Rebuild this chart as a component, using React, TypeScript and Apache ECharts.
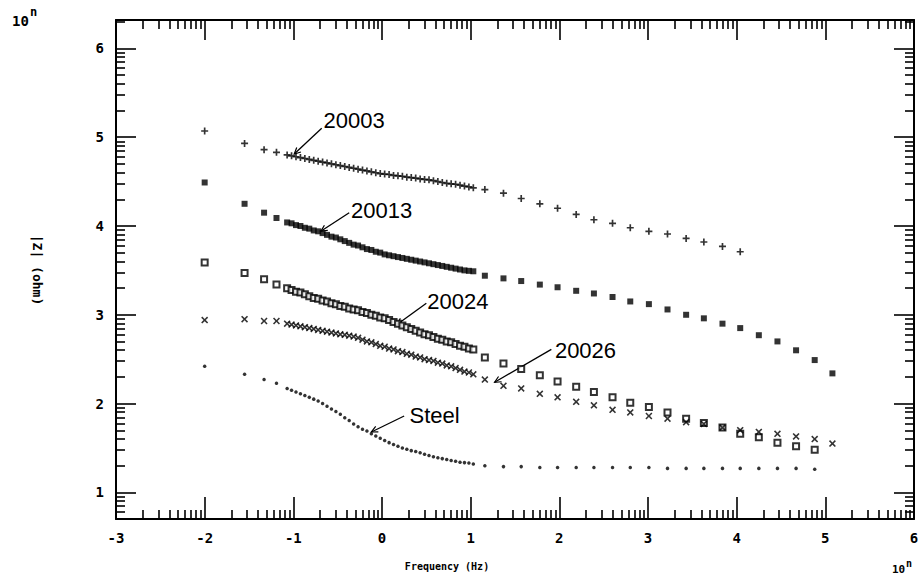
import React, { useEffect, useRef } from 'react';
import * as echarts from 'echarts';

// ---- data (log10 values) ----
const xTickValues = [-3, -2, -1, 0, 1, 2, 3, 4, 5, 6];
const yTickValues = [1, 2, 3, 4, 5, 6];

const logFreq = [
  -2.0, -1.55, -1.33, -1.19,
  -1.07, -1.02, -0.97, -0.92, -0.87, -0.82, -0.77, -0.72, -0.67, -0.62,
  -0.57, -0.52, -0.47, -0.42, -0.37, -0.32, -0.27, -0.22, -0.17, -0.12,
  -0.07, -0.02, 0.03, 0.08, 0.13, 0.18, 0.23, 0.28, 0.33, 0.38,
  0.43, 0.48, 0.53, 0.58, 0.63, 0.68, 0.73, 0.78, 0.83, 0.88,
  0.93, 0.98, 1.03,
  1.16, 1.37, 1.57, 1.78, 1.98, 2.19, 2.39, 2.60, 2.80, 3.01,
  3.22, 3.43, 3.63, 3.84, 4.04, 4.25, 4.46, 4.67, 4.88, 5.08,
];

const z20003 = [
  5.07, 4.93, 4.86, 4.83,
  4.80, 4.79, 4.78, 4.77, 4.76, 4.75, 4.74, 4.73, 4.72, 4.71,
  4.70, 4.69, 4.68, 4.67, 4.66, 4.65, 4.64, 4.63, 4.62, 4.61,
  4.60, 4.59, 4.585, 4.58, 4.57, 4.565, 4.56, 4.55, 4.545, 4.54,
  4.53, 4.525, 4.52, 4.51, 4.50, 4.49, 4.48, 4.475, 4.47, 4.46,
  4.45, 4.44, 4.43,
  4.41, 4.37, 4.31, 4.25, 4.20, 4.13, 4.07, 4.03, 3.98, 3.94,
  3.91, 3.86, 3.82, 3.77, 3.71, null, null, null, null, null,
];

const z20013 = [
  4.49, 4.25, 4.15, 4.09,
  4.04, 4.03, 4.01, 4.00, 3.98, 3.97, 3.95, 3.94, 3.92, 3.90,
  3.88, 3.87, 3.85, 3.83, 3.81, 3.79, 3.78, 3.76, 3.74, 3.73,
  3.71, 3.70, 3.68, 3.67, 3.66, 3.65, 3.64, 3.63, 3.62, 3.61,
  3.60, 3.59, 3.58, 3.57, 3.56, 3.55, 3.54, 3.53, 3.52, 3.51,
  3.50, 3.495, 3.49,
  3.44, 3.41, 3.38, 3.34, 3.31, 3.27, 3.24, 3.20, 3.15, 3.12,
  3.06, 3.00, 2.96, 2.90, 2.85, 2.77, 2.70, 2.60, 2.49, 2.34,
];

const z20024 = [
  3.59, 3.47, 3.40, 3.34,
  3.30, 3.28, 3.26, 3.25, 3.23, 3.21, 3.19, 3.18, 3.16, 3.15,
  3.13, 3.12, 3.10, 3.09, 3.07, 3.06, 3.05, 3.03, 3.02, 3.00,
  2.99, 2.97, 2.96, 2.94, 2.92, 2.90, 2.88, 2.86, 2.84, 2.82,
  2.80, 2.78, 2.77, 2.75, 2.73, 2.72, 2.70, 2.69, 2.67, 2.65,
  2.64, 2.62, 2.61,
  2.52, 2.45, 2.39, 2.32, 2.25, 2.19, 2.13, 2.07, 2.01, 1.96,
  1.90, 1.83, 1.78, 1.73, 1.66, 1.62, 1.56, 1.52, 1.48, null,
];

const z20026 = [
  2.94, 2.95, 2.93, 2.93,
  2.90, 2.89, 2.88, 2.87, 2.86, 2.85, 2.84, 2.83, 2.82, 2.81,
  2.80, 2.79, 2.78, 2.775, 2.765, 2.755, 2.74, 2.72, 2.70, 2.69,
  2.67, 2.65, 2.64, 2.62, 2.61, 2.59, 2.58, 2.56, 2.55, 2.53,
  2.52, 2.50, 2.49, 2.48, 2.46, 2.45, 2.43, 2.42, 2.40, 2.38,
  2.36, 2.35, 2.33,
  2.27, 2.20, 2.17, 2.11, 2.07, 2.02, 1.98, 1.93, 1.90, 1.86,
  1.83, 1.79, 1.77, 1.73, 1.70, 1.68, 1.66, 1.63, 1.60, 1.55,
];

const zSteel = [
  2.42, 2.33, 2.27, 2.23,
  2.17, 2.15, 2.13, 2.11, 2.09, 2.07, 2.05, 2.03, 2.00, 1.97,
  1.94, 1.91, 1.88, 1.84, 1.81, 1.77, 1.74, 1.71, 1.69, 1.66,
  1.635, 1.61, 1.585, 1.56, 1.54, 1.52, 1.50, 1.485, 1.47, 1.46,
  1.445, 1.43, 1.415, 1.40, 1.39, 1.38, 1.37, 1.36, 1.35, 1.34,
  1.335, 1.33, 1.32,
  1.30, 1.29, 1.29, 1.28, 1.28, 1.28, 1.28, 1.28, 1.28, 1.28,
  1.27, 1.27, 1.27, 1.27, 1.27, 1.27, 1.27, 1.27, 1.26, null,
];

// annotation labels: text, label anchor, arrow start, arrow tip (data coords)
const annoNames = ['20003', '20013', '20024', '20026', 'Steel'];
const annoLabelAt = [[-0.66, 5.19], [-0.35, 4.18], [0.51, 3.15], [1.95, 2.60], [0.31, 1.87]];
const annoFrom = [[-0.68, 5.10], [-0.37, 4.15], [0.50, 3.13], [1.91, 2.61], [0.25, 1.86]];
const annoTo = [[-0.99, 4.81], [-0.69, 3.94], [0.17, 2.89], [1.27, 2.24], [-0.12, 1.68]];

const X_MIN = -3;
const X_MAX = 6;
const Y_MIN = 0.7;
const Y_MAX = 6.32;

const PLUS = 'path://M3.8,0H6.2V3.8H10V6.2H6.2V10H3.8V6.2H0V3.8H3.8Z';
const CROSS = 'path://M0,1.6L1.6,0L5,3.4L8.4,0L10,1.6L6.6,5L10,8.4L8.4,10L5,6.6L1.6,10L0,8.4L3.4,5Z';

function logMinor(lo: number, hi: number): number[] {
  const out: number[] = [];
  for (let n = Math.floor(lo) - 1; n < hi; n++) {
    for (let k = 2; k <= 9; k++) {
      const v = n + Math.log10(k);
      if (v > lo + 1e-6 && v < hi - 1e-6) out.push(v);
    }
  }
  return out;
}

function pairs(xs: number[], ys: (number | null)[]) {
  const out: number[][] = [];
  ys.forEach((y, i) => {
    if (y !== null && y !== undefined) out.push([xs[i], y]);
  });
  return out;
}

const TICK_FONT = {
  fontFamily: '"DejaVu Sans Mono", monospace',
  fontWeight: 'bold' as const,
  fontSize: 14,
  color: '#000',
};

export default function App() {
  const ref = useRef<HTMLDivElement>(null);

  useEffect(() => {
    if (!ref.current) return;
    const chart = echarts.init(ref.current, null, { renderer: 'svg' });

    const xMinor = logMinor(X_MIN, X_MAX);
    const yMinor = logMinor(Y_MIN, Y_MAX);
    const lineStyle = { color: '#000', width: 2 };
    const tickLine = { color: '#000', width: 1.6 };

    const baseX = {
      type: 'value' as const,
      min: X_MIN,
      max: X_MAX,
      splitLine: { show: false },
    };
    const baseY = {
      type: 'value' as const,
      min: Y_MIN,
      max: Y_MAX,
      splitLine: { show: false },
    };

    const scatter = (name: string, ys: (number | null)[], symbol: string, size: number, extra: any = {}) => ({
      name,
      type: 'scatter',
      data: pairs(logFreq, ys),
      symbol,
      symbolSize: size,
      itemStyle: { color: '#000', ...extra },
      silent: true,
    });

    chart.setOption({
      animation: false,
      backgroundColor: '#fff',
      grid: { left: 116, right: 9, top: 20, bottom: 59, containLabel: false },
      xAxis: [
        {
          ...baseX,
          position: 'bottom',
          interval: 1,
          axisLine: { show: true, onZero: false, lineStyle },
          axisTick: { show: true, inside: true, length: 22, lineStyle: tickLine },
          axisLabel: { show: true, margin: 12, showMinLabel: true, showMaxLabel: true, ...TICK_FONT,
            formatter: (v: number) => (xTickValues.includes(v) ? String(v) : '') },
        },
        {
          ...baseX,
          position: 'bottom',
          axisLine: { show: false, onZero: false },
          axisTick: { show: true, inside: true, length: 9, customValues: xMinor, lineStyle: tickLine },
          axisLabel: { show: false },
        },
        {
          ...baseX,
          position: 'top',
          interval: 1,
          axisLine: { show: true, onZero: false, lineStyle },
          axisTick: { show: true, inside: true, length: 20, lineStyle: tickLine },
          axisLabel: { show: false },
        },
        {
          ...baseX,
          position: 'top',
          axisLine: { show: false, onZero: false },
          axisTick: { show: true, inside: true, length: 9, customValues: xMinor, lineStyle: tickLine },
          axisLabel: { show: false },
        },
      ],
      yAxis: [
        {
          ...baseY,
          position: 'left',
          axisLine: { show: true, onZero: false, lineStyle },
          axisTick: { show: true, inside: true, length: 20, customValues: yTickValues, lineStyle: tickLine },
          axisLabel: { show: true, margin: 12, customValues: yTickValues, ...TICK_FONT },
        },
        {
          ...baseY,
          position: 'left',
          axisLine: { show: false, onZero: false },
          axisTick: { show: true, inside: true, length: 9, customValues: yMinor, lineStyle: tickLine },
          axisLabel: { show: false },
        },
        {
          ...baseY,
          position: 'right',
          axisLine: { show: true, onZero: false, lineStyle },
          axisTick: { show: true, inside: true, length: 20, customValues: yTickValues, lineStyle: tickLine },
          axisLabel: { show: false },
        },
        {
          ...baseY,
          position: 'right',
          axisLine: { show: false, onZero: false },
          axisTick: { show: true, inside: true, length: 9, customValues: yMinor, lineStyle: tickLine },
          axisLabel: { show: false },
        },
      ],
      series: [
        scatter('20003', z20003, PLUS, 7),
        scatter('20013', z20013, 'rect', 6),
        scatter('20024', z20024, 'emptyRect', 6, { borderColor: '#000', borderWidth: 1.5 }),
        scatter('20026', z20026, CROSS, 7),
        scatter('Steel', zSteel, 'circle', 3.5),
      ],
    });

    const toPx = (p: number[]) => chart.convertToPixel({ xAxisIndex: 0, yAxisIndex: 0 }, p) as number[];
    const graphics: any[] = [];
    annoNames.forEach((name, i) => {
      const lp = toPx(annoLabelAt[i]);
      const a = toPx(annoFrom[i]);
      const b = toPx(annoTo[i]);
      graphics.push({
        type: 'text', x: lp[0], y: lp[1], silent: true,
        style: { text: name, font: '22px "Liberation Sans", Arial, sans-serif', fill: '#000', textAlign: 'left', textVerticalAlign: 'middle' },
      });
      graphics.push({
        type: 'line', silent: true,
        shape: { x1: a[0], y1: a[1], x2: b[0], y2: b[1] },
        style: { stroke: '#000', lineWidth: 1.3 },
      });
      const dx = b[0] - a[0];
      const dy = b[1] - a[1];
      const len = Math.hypot(dx, dy) || 1;
      const ux = dx / len;
      const uy = dy / len;
      const head = 7;
      const ang = 0.45;
      const rot = (s: number) => [
        b[0] - head * (ux * Math.cos(s) - uy * Math.sin(s)),
        b[1] - head * (ux * Math.sin(s) + uy * Math.cos(s)),
      ];
      graphics.push({
        type: 'polyline', silent: true,
        shape: { points: [rot(ang), [b[0], b[1]], rot(-ang)] },
        style: { stroke: '#000', lineWidth: 1.2, fill: 'none' },
      });
    });

    const mono = '"DejaVu Sans Mono", monospace';
    graphics.push(
      { type: 'text', x: 12, y: 21, style: { text: '10', font: `bold 14px ${mono}`, fill: '#000', textVerticalAlign: 'middle' } },
      { type: 'text', x: 30, y: 12, style: { text: 'n', font: `bold 12px ${mono}`, fill: '#000', textVerticalAlign: 'middle' } },
      { type: 'text', x: 892, y: 569, style: { text: '10', font: `bold 11px ${mono}`, fill: '#000', textVerticalAlign: 'middle' } },
      { type: 'text', x: 906, y: 563, style: { text: 'n', font: `bold 10px ${mono}`, fill: '#000', textVerticalAlign: 'middle' } },
      { type: 'text', x: 447, y: 566, style: { text: 'Frequency (Hz)', font: `bold 10px ${mono}`, fill: '#000', textAlign: 'center', textVerticalAlign: 'middle' } },
      { type: 'text', x: 37, y: 270, rotation: -Math.PI / 2, style: { text: '|Z| (ohm)', font: `bold 13px ${mono}`, fill: '#000', textAlign: 'center', textVerticalAlign: 'middle' } },
    );

    chart.setOption({ graphic: graphics });

    return () => chart.dispose();
  }, []);

  return (
    <div
      ref={ref}
      style={{ position: 'fixed', left: 0, top: 0, width: 923, height: 578, background: '#fff' }}
    />
  );
}
